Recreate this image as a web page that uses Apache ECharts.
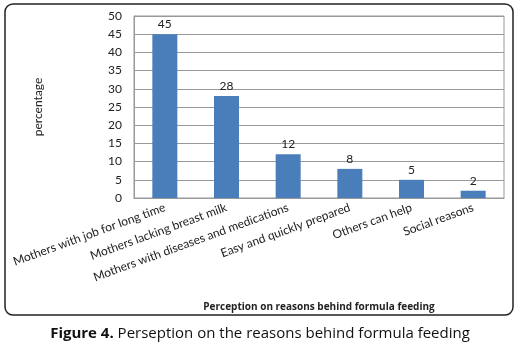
<!DOCTYPE html>
<html><head><meta charset="utf-8">
<script src="https://cdn.jsdelivr.net/npm/echarts@6/dist/echarts.min.js"></script>
<style>html,body{margin:0;padding:0;background:#fff}#c{width:520px;height:349px}</style>
</head><body><div id="c"></div>
<script>
const categories = ["Mothers with job for long time","Mothers lacking breast milk","Mothers with diseases and medications","Easy and quickly prepared","Others can help","Social reasons"];
const values = [45, 28, 12, 8, 5, 2];
const yTicks = [0, 5, 10, 15, 20, 25, 30, 35, 40, 45, 50];
const yAxisName = "percentage";
const xAxisName = "Perception on reasons behind formula feeding";
const captionBold = "Figure 4.";
const captionText = " Perseption on the reasons behind formula feeding";

const chart = echarts.init(document.getElementById('c'), null, {renderer:'canvas'});
chart.setOption({
  animation:false,
  backgroundColor:'#fff',
  title:{
    text:'{b|'+captionBold+'}{n|'+captionText+'}',
    left:'center', top:321,
    textStyle:{fontWeight:'normal',rich:{
      b:{fontFamily:'Open Sans',fontWeight:'bold',fontSize:15,color:'#111'},
      n:{fontFamily:'Open Sans',fontWeight:'normal',fontSize:15,color:'#111'}
    }}
  },
  graphic:[{
    type:'rect', shape:{x:5,y:4,width:508,height:311,r:8},
    style:{fill:'none',stroke:'#222',lineWidth:1.5}, silent:true, z:-1
  }],
  grid:{left:134,top:16,right:16,bottom:151,show:true,borderColor:'#999',borderWidth:1,backgroundColor:'transparent'},
  xAxis:{
    type:'category', data:categories,
    axisLine:{lineStyle:{color:'#999'}},
    axisTick:{show:false},
    axisLabel:{rotate:20,interval:0,fontFamily:'Lato',fontSize:12,color:'#222',margin:9},
    name:xAxisName, nameLocation:'middle', nameGap:104,
    nameTextStyle:{fontFamily:'Open Sans',fontWeight:'bold',fontSize:10,color:'#222'}
  },
  yAxis:{
    type:'value', min:yTicks[0], max:yTicks[yTicks.length-1], interval:yTicks[1]-yTicks[0],
    axisLine:{show:true,lineStyle:{color:'#999'}},
    axisTick:{show:false},
    axisLabel:{fontFamily:'Lato',fontSize:12,color:'#222',margin:12},
    splitLine:{lineStyle:{color:'#999',width:1}},
    name:yAxisName, nameLocation:'middle', nameGap:90, nameRotate:90,
    nameTextStyle:{fontFamily:'Lato',fontSize:12,color:'#222'}
  },
  series:[{
    type:'bar', data:values, barWidth:25,
    itemStyle:{color:'#4a7ebb'},
    label:{show:true,position:'top',fontFamily:'Lato',fontSize:12,color:'#222',distance:4}
  }]
});
</script></body></html>
